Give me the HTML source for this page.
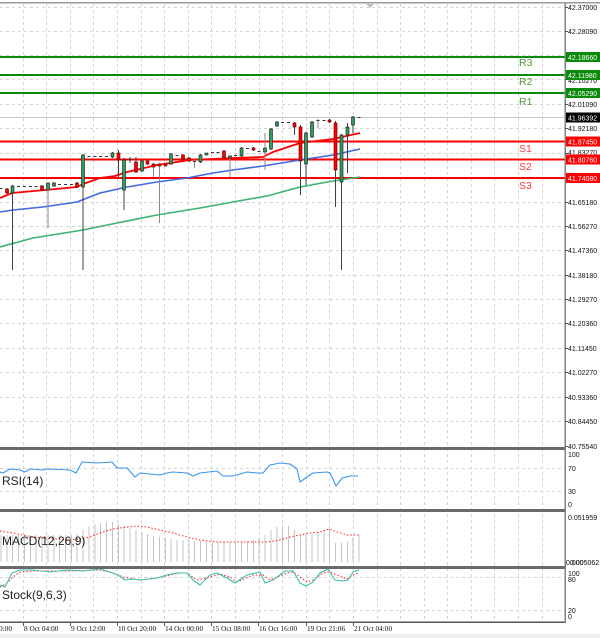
<!DOCTYPE html>
<html><head><meta charset="utf-8"><style>
html,body{margin:0;padding:0;background:#fff;}
svg{display:block;}
text{font-family:"Liberation Sans",sans-serif;}
</style></head><body>
<svg width="600" height="638" viewBox="0 0 600 638" xmlns="http://www.w3.org/2000/svg">
<rect x="0" y="0" width="600" height="638" fill="#fff"/>
<rect x="0" y="634" width="600" height="4" fill="#f0f0f0"/>
<!-- vertical grid -->
<g stroke="#d4d4d4" stroke-width="1" stroke-dasharray="3,3">
<line x1="23.5" y1="4" x2="23.5" y2="622"/><line x1="46.5" y1="4" x2="46.5" y2="622"/><line x1="70.5" y1="4" x2="70.5" y2="622"/><line x1="93.5" y1="4" x2="93.5" y2="622"/><line x1="117.5" y1="4" x2="117.5" y2="622"/><line x1="141.5" y1="4" x2="141.5" y2="622"/><line x1="164.5" y1="4" x2="164.5" y2="622"/><line x1="188.5" y1="4" x2="188.5" y2="622"/><line x1="211.5" y1="4" x2="211.5" y2="622"/><line x1="235.5" y1="4" x2="235.5" y2="622"/><line x1="259.5" y1="4" x2="259.5" y2="622"/><line x1="282.5" y1="4" x2="282.5" y2="622"/><line x1="306.5" y1="4" x2="306.5" y2="622"/><line x1="329.5" y1="4" x2="329.5" y2="622"/><line x1="353.5" y1="4" x2="353.5" y2="622"/><line x1="377.5" y1="4" x2="377.5" y2="622"/><line x1="400.5" y1="4" x2="400.5" y2="622"/><line x1="424.5" y1="4" x2="424.5" y2="622"/><line x1="447.5" y1="4" x2="447.5" y2="622"/><line x1="471.5" y1="4" x2="471.5" y2="622"/><line x1="494.5" y1="4" x2="494.5" y2="622"/><line x1="518.5" y1="4" x2="518.5" y2="622"/><line x1="542.5" y1="4" x2="542.5" y2="622"/>
</g>
<!-- horizontal grid main -->
<g stroke="#d4d4d4" stroke-width="1" stroke-dasharray="3,3">
<line x1="0" y1="7.5" x2="565" y2="7.5"/><line x1="0" y1="31.5" x2="565" y2="31.5"/><line x1="0" y1="55.5" x2="565" y2="55.5"/><line x1="0" y1="79.5" x2="565" y2="79.5"/><line x1="0" y1="104.5" x2="565" y2="104.5"/><line x1="0" y1="128.5" x2="565" y2="128.5"/><line x1="0" y1="153.5" x2="565" y2="153.5"/><line x1="0" y1="177.5" x2="565" y2="177.5"/><line x1="0" y1="202.5" x2="565" y2="202.5"/><line x1="0" y1="226.5" x2="565" y2="226.5"/><line x1="0" y1="250.5" x2="565" y2="250.5"/><line x1="0" y1="275.5" x2="565" y2="275.5"/><line x1="0" y1="299.5" x2="565" y2="299.5"/><line x1="0" y1="323.5" x2="565" y2="323.5"/><line x1="0" y1="348.5" x2="565" y2="348.5"/><line x1="0" y1="372.5" x2="565" y2="372.5"/><line x1="0" y1="397.5" x2="565" y2="397.5"/><line x1="0" y1="421.5" x2="565" y2="421.5"/>
<line x1="0" y1="468.5" x2="565" y2="468.5"/><line x1="0" y1="491.5" x2="565" y2="491.5"/>
<line x1="0" y1="577.5" x2="565" y2="577.5"/><line x1="0" y1="610.5" x2="565" y2="610.5"/>
</g>
<!-- current price line -->
<line x1="0" y1="117.5" x2="565" y2="117.5" stroke="#c8c8c8" stroke-width="1"/>
<!-- S/R lines -->
<g stroke-width="2">
<line x1="0" y1="57" x2="565" y2="57" stroke="#0a8a0a"/>
<line x1="0" y1="75" x2="565" y2="75" stroke="#0a8a0a"/>
<line x1="0" y1="93" x2="565" y2="93" stroke="#0a8a0a"/>
<line x1="0" y1="141.5" x2="565" y2="141.5" stroke="#ff0000"/>
<line x1="0" y1="159.5" x2="565" y2="159.5" stroke="#ff0000"/>
<line x1="0" y1="178" x2="565" y2="178" stroke="#ff0000"/>
</g>
<g font-size="10.5">
<text x="519" y="66" fill="#4f9a3a">R3</text>
<text x="519" y="85" fill="#4f9a3a">R2</text>
<text x="519" y="105" fill="#4f9a3a">R1</text>
<text x="519" y="152" fill="#ff3b3b">S1</text>
<text x="519" y="170" fill="#ff3b3b">S2</text>
<text x="519" y="189" fill="#ff3b3b">S3</text>
</g>
<!-- moving averages -->
<g fill="none" stroke-linejoin="round">
<polyline stroke="#3cb371" stroke-width="1.6" points="0,247 33,238 83,230 117,223 157,215 200,208 233,202 267,196 300,187 333,181 360,177"/>
<polyline stroke="#4169e1" stroke-width="1.6" points="0,212 13,210 43,207 77,202 100,193 127,187 157,182 187,178 213,173 233,170 263,166 300,160 333,155 360,149"/>
<polyline stroke="#ff0000" stroke-width="1.8" points="0,198 12,193 45,190 77,187 83,184 100,178 115,176 127,172 157,165 190,160 233,158 263,157 273,152 300,143 333,139 360,133"/>
</g>
<!-- wicks -->
<g stroke="#404040" stroke-width="1">
<line x1="7" y1="188" x2="7" y2="194"/>
<line x1="12.5" y1="185" x2="12.5" y2="270"/>
<line x1="42" y1="185" x2="42" y2="191"/>
<line x1="48" y1="182" x2="48" y2="228" stroke="#8a8a8a"/>
<line x1="54" y1="182" x2="54" y2="187"/>
<line x1="77" y1="182" x2="77" y2="188"/>
<line x1="83" y1="154" x2="83" y2="270"/>
<line x1="112.5" y1="152" x2="112.5" y2="158"/>
<line x1="118.5" y1="150" x2="118.5" y2="177"/>
<line x1="124" y1="158" x2="124" y2="210"/>
<line x1="130" y1="157" x2="130" y2="163"/>
<line x1="136" y1="157" x2="136" y2="173"/>
<line x1="142" y1="160" x2="142" y2="172"/>
<line x1="147.5" y1="160" x2="147.5" y2="165"/>
<line x1="153.5" y1="163" x2="153.5" y2="177" stroke="#8a8a8a"/>
<line x1="159.5" y1="163" x2="159.5" y2="223" stroke="#8a8a8a"/>
<line x1="171" y1="153" x2="171" y2="165"/>
<line x1="183" y1="154" x2="183" y2="160"/>
<line x1="189" y1="157" x2="189" y2="162"/>
<line x1="194.5" y1="159" x2="194.5" y2="168" stroke="#8a8a8a"/>
<line x1="200.5" y1="154" x2="200.5" y2="163"/>
<line x1="224" y1="150" x2="224" y2="159"/>
<line x1="230" y1="155" x2="230" y2="177" stroke="#8a8a8a"/>
<line x1="241.5" y1="147" x2="241.5" y2="157"/>
<line x1="253.5" y1="147" x2="253.5" y2="151"/>
<line x1="265" y1="133" x2="265" y2="170" stroke="#8a8a8a"/>
<line x1="271" y1="128" x2="271" y2="150"/>
<line x1="277" y1="121" x2="277" y2="127"/>
<line x1="294.5" y1="122" x2="294.5" y2="135"/>
<line x1="300.5" y1="125" x2="300.5" y2="195"/>
<line x1="306" y1="132" x2="306" y2="185"/>
<line x1="312" y1="121" x2="312" y2="138"/>
<line x1="318" y1="119" x2="318" y2="128" stroke="#8a8a8a"/>
<line x1="329.5" y1="119" x2="329.5" y2="123"/>
<line x1="335.5" y1="121" x2="335.5" y2="207"/>
<line x1="341.5" y1="134" x2="341.5" y2="270"/>
<line x1="347.5" y1="123" x2="347.5" y2="173"/>
<line x1="353" y1="116" x2="353" y2="133"/>
</g>
<!-- dashes (doji) -->
<g stroke="#333" stroke-width="1">
<line x1="0" y1="188.5" x2="2.5" y2="188.5"/>
<line x1="17" y1="186.5" x2="20" y2="186.5"/><line x1="23" y1="186.5" x2="26" y2="186.5"/><line x1="29" y1="186.5" x2="32" y2="186.5"/><line x1="34.5" y1="186.5" x2="37.5" y2="186.5"/>
<line x1="58" y1="184.5" x2="61" y2="184.5"/><line x1="64" y1="184.5" x2="67" y2="184.5"/><line x1="70" y1="184.5" x2="73" y2="184.5"/>
<line x1="87.5" y1="156.5" x2="90.5" y2="156.5"/><line x1="93.5" y1="156.5" x2="96.5" y2="156.5"/><line x1="99" y1="156.5" x2="102" y2="156.5"/><line x1="105" y1="156.5" x2="108" y2="156.5"/>
<line x1="128.5" y1="159.5" x2="131.5" y2="159.5"/>
<line x1="175.5" y1="155.5" x2="178.5" y2="155.5"/>
<line x1="193" y1="161.5" x2="196" y2="161.5"/>
<line x1="211" y1="152.5" x2="214" y2="152.5"/><line x1="216.5" y1="152.5" x2="219.5" y2="152.5"/>
<line x1="234" y1="155.5" x2="237" y2="155.5"/>
<line x1="246" y1="148.5" x2="249" y2="148.5"/>
<line x1="257.5" y1="151.5" x2="260.5" y2="151.5"/>
<line x1="281" y1="122.5" x2="284" y2="122.5"/><line x1="287" y1="122.5" x2="290" y2="122.5"/>
<line x1="316.5" y1="120.5" x2="319.5" y2="120.5"/><line x1="322.5" y1="120.5" x2="325.5" y2="120.5"/>
<line x1="357.5" y1="117.5" x2="360.5" y2="117.5"/>
</g>
<!-- red bodies -->
<g fill="#ff0000" stroke="#5a0000" stroke-width="0.6">
<rect x="5.5" y="189" width="3" height="4"/>
<rect x="40.5" y="186" width="3" height="4"/>
<rect x="75.5" y="183" width="3" height="4"/>
<rect x="117" y="153" width="3" height="7"/>
<rect x="134.5" y="162" width="3" height="10"/>
<rect x="146" y="161" width="3" height="3"/>
<rect x="152" y="164" width="3" height="3"/>
<rect x="158" y="164" width="3" height="2"/>
<rect x="164" y="164" width="3" height="2"/>
<rect x="181.5" y="155" width="3" height="4"/>
<rect x="187.5" y="158" width="3" height="3"/>
<rect x="222.5" y="151" width="3" height="7"/>
<rect x="252" y="148" width="3" height="2"/>
<rect x="293" y="123" width="3" height="4"/>
<rect x="299" y="127" width="3" height="34"/>
<rect x="328" y="120" width="3" height="2"/>
<rect x="334" y="123" width="3" height="47"/>
</g>
<!-- green bodies -->
<g fill="#2f9e5c" stroke="#1a1a1a" stroke-width="0.6">
<rect x="11" y="186" width="3" height="7"/>
<rect x="46.5" y="183" width="3" height="7"/>
<rect x="52.5" y="183" width="3" height="3"/>
<rect x="81.5" y="155" width="3" height="32"/>
<rect x="111" y="153" width="3" height="4"/>
<rect x="122.5" y="160" width="3" height="30"/>
<rect x="140.5" y="161" width="3" height="10"/>
<rect x="169.5" y="154" width="3" height="10"/>
<rect x="199" y="155" width="3" height="7"/>
<rect x="205" y="153" width="3" height="2"/>
<rect x="228.5" y="156" width="3" height="2"/>
<rect x="240" y="148" width="3" height="8"/>
<rect x="263.5" y="148" width="3" height="4"/>
<rect x="269.5" y="129" width="3" height="20"/>
<rect x="275.5" y="122" width="3" height="4"/>
<rect x="304.5" y="133" width="3" height="31"/>
<rect x="310.5" y="122" width="3" height="15"/>
<rect x="340" y="135" width="3" height="47"/>
<rect x="346" y="127" width="3" height="8"/>
<rect x="351.5" y="117" width="3" height="8"/>
</g>
<!-- RSI -->
<polyline fill="none" stroke="#3a96f0" stroke-width="1.1" stroke-linejoin="round" points="0,472 3,473 10,469 20,470 25,472 30,469 43,470 47,469 70,470 76,473 82,462 97,463 112,462 117,468 127,468 135,477 140,473 150,474 160,475 167,473 173,472 187,473 193,476 200,473 217,471 223,476 233,476 247,472 257,473 263,473 270,465 280,463 290,464 297,469 300,482 307,477 313,473 327,472 330,473 336,486 342,478 350,476 358,476"/>
<!-- MACD bars -->
<g stroke="#c4c4c4" stroke-width="1">
<line x1="1" y1="535" x2="1" y2="562"/><line x1="7" y1="535" x2="7" y2="562"/><line x1="12.5" y1="535" x2="12.5" y2="562"/><line x1="18.5" y1="535" x2="18.5" y2="562"/><line x1="24.5" y1="535" x2="24.5" y2="562"/><line x1="30.5" y1="535" x2="30.5" y2="562"/><line x1="36" y1="535" x2="36" y2="562"/><line x1="42" y1="536" x2="42" y2="562"/><line x1="48" y1="535" x2="48" y2="562"/><line x1="54" y1="535" x2="54" y2="562"/><line x1="59.5" y1="535" x2="59.5" y2="562"/><line x1="65.5" y1="535" x2="65.5" y2="562"/><line x1="71.5" y1="535" x2="71.5" y2="562"/><line x1="77" y1="534" x2="77" y2="562"/>
<line x1="83" y1="529" x2="83" y2="562"/><line x1="89" y1="526" x2="89" y2="562"/><line x1="95" y1="524" x2="95" y2="562"/><line x1="100.5" y1="523" x2="100.5" y2="562"/><line x1="106.5" y1="522" x2="106.5" y2="562"/><line x1="112.5" y1="522" x2="112.5" y2="562"/><line x1="118.5" y1="524" x2="118.5" y2="562"/><line x1="124" y1="526" x2="124" y2="562"/><line x1="130" y1="528" x2="130" y2="562"/><line x1="136" y1="530" x2="136" y2="562"/><line x1="142" y1="532" x2="142" y2="562"/><line x1="147.5" y1="534" x2="147.5" y2="562"/><line x1="153.5" y1="536" x2="153.5" y2="562"/><line x1="159.5" y1="537" x2="159.5" y2="562"/><line x1="165.5" y1="538" x2="165.5" y2="562"/><line x1="171" y1="539" x2="171" y2="562"/><line x1="177" y1="540" x2="177" y2="562"/><line x1="183" y1="540" x2="183" y2="562"/><line x1="189" y1="540" x2="189" y2="562"/><line x1="194.5" y1="541" x2="194.5" y2="562"/><line x1="200.5" y1="541" x2="200.5" y2="562"/><line x1="206.5" y1="541" x2="206.5" y2="562"/><line x1="212.5" y1="542" x2="212.5" y2="562"/><line x1="218" y1="542" x2="218" y2="562"/><line x1="224" y1="542" x2="224" y2="562"/><line x1="230" y1="542" x2="230" y2="562"/><line x1="235.5" y1="542" x2="235.5" y2="562"/><line x1="241.5" y1="541" x2="241.5" y2="562"/><line x1="247.5" y1="541" x2="247.5" y2="562"/><line x1="253.5" y1="540" x2="253.5" y2="562"/><line x1="259" y1="538" x2="259" y2="562"/><line x1="265" y1="535" x2="265" y2="562"/><line x1="271" y1="530" x2="271" y2="562"/><line x1="277" y1="527" x2="277" y2="562"/><line x1="282.5" y1="526" x2="282.5" y2="562"/><line x1="288.5" y1="526" x2="288.5" y2="562"/><line x1="294.5" y1="530" x2="294.5" y2="562"/><line x1="300.5" y1="535" x2="300.5" y2="562"/><line x1="306" y1="535" x2="306" y2="562"/><line x1="312" y1="534" x2="312" y2="562"/><line x1="318" y1="532" x2="318" y2="562"/><line x1="324" y1="530" x2="324" y2="562"/><line x1="329.5" y1="529" x2="329.5" y2="562"/><line x1="335.5" y1="543" x2="335.5" y2="562"/><line x1="341.5" y1="543" x2="341.5" y2="562"/><line x1="347.5" y1="542" x2="347.5" y2="562"/><line x1="353" y1="537" x2="353" y2="562"/><line x1="359" y1="535" x2="359" y2="562"/>
</g>
<polyline fill="none" stroke="#ff2020" stroke-width="1" stroke-dasharray="1.5,2" points="0,531 13,533 33,537 67,540 80,539 90,537 100,533 113,529 127,527 137,526 147,527 160,530 173,533 187,537 200,540 217,542 233,542 253,542 267,542 280,540 290,537 300,535 310,533 320,532 329,529 337,532 347,535 359,535"/>
<!-- Stochastic -->
<polyline fill="none" stroke="#ff2020" stroke-width="1" stroke-dasharray="1.5,2" points="0,587 7,583 13,577 20,572 33,571 67,571 100,570 113,573 123,577 140,580 157,578 170,575 180,573 187,573 197,580 207,578 220,574 230,577 237,582 253,575 263,575 270,580 287,573 293,572 300,577 307,582 313,580 323,573 329,572 337,575 347,579 353,575 359,573"/>
<polyline fill="none" stroke="#3fbfae" stroke-width="1.1" stroke-linejoin="round" points="0,585 5,587 12,573 20,570 33,570 50,572 67,570 83,571 100,569 110,572 118,575 125,580 133,579 140,580 157,578 167,575 177,573 187,573 193,580 200,585 210,575 217,573 227,578 235,583 247,575 260,572 265,583 273,580 285,571 293,571 300,583 306,586 313,582 320,573 328,569 335,580 343,581 348,580 353,572 359,570"/>
<!-- indicator labels -->
<g font-size="12" fill="#222">
<text x="2" y="485">RSI(14)</text>
<text x="2" y="545">MACD(12,26,9)</text>
<text x="2" y="599">Stock(9,6,3)</text>
</g>
<!-- frame -->
<rect x="0" y="2" width="600" height="1.5" fill="#9a9a9a"/>
<rect x="0" y="447" width="566" height="3" fill="#6a6a6a"/>
<rect x="0" y="509" width="566" height="3" fill="#6a6a6a"/>
<rect x="0" y="566" width="566" height="3" fill="#6a6a6a"/>
<rect x="0" y="621.5" width="566" height="1.5" fill="#555"/>
<rect x="564.5" y="3" width="1.5" height="620" fill="#808080"/>
<polygon points="366,4 374,4 370,8" fill="#bdbdbd"/>
<!-- right axis ticks -->
<g stroke="#555" stroke-width="1">
<line x1="565" y1="7.5" x2="568" y2="7.5"/><line x1="565" y1="31.5" x2="568" y2="31.5"/><line x1="565" y1="79.5" x2="568" y2="79.5"/><line x1="565" y1="104.5" x2="568" y2="104.5"/><line x1="565" y1="128.5" x2="568" y2="128.5"/><line x1="565" y1="153.5" x2="568" y2="153.5"/><line x1="565" y1="202.5" x2="568" y2="202.5"/><line x1="565" y1="226.5" x2="568" y2="226.5"/><line x1="565" y1="250.5" x2="568" y2="250.5"/><line x1="565" y1="275.5" x2="568" y2="275.5"/><line x1="565" y1="299.5" x2="568" y2="299.5"/><line x1="565" y1="323.5" x2="568" y2="323.5"/><line x1="565" y1="348.5" x2="568" y2="348.5"/><line x1="565" y1="372.5" x2="568" y2="372.5"/><line x1="565" y1="397.5" x2="568" y2="397.5"/><line x1="565" y1="421.5" x2="568" y2="421.5"/><line x1="565" y1="446.5" x2="568" y2="446.5"/>
<line x1="23.5" y1="622" x2="23.5" y2="626"/><line x1="70.5" y1="622" x2="70.5" y2="626"/><line x1="117.5" y1="622" x2="117.5" y2="626"/><line x1="164.5" y1="622" x2="164.5" y2="626"/><line x1="211.5" y1="622" x2="211.5" y2="626"/><line x1="258.5" y1="622" x2="258.5" y2="626"/><line x1="306.5" y1="622" x2="306.5" y2="626"/><line x1="353.5" y1="622" x2="353.5" y2="626"/>
</g>
<!-- price labels -->
<g font-size="7" fill="#111">
<text x="568" y="10">42.37000</text>
<text x="568" y="34">42.28090</text>
<text x="568" y="83">42.10270</text>
<text x="568" y="107">42.01090</text>
<text x="568" y="131">41.92180</text>
<text x="568" y="155">41.83270</text>
<text x="568" y="205">41.65180</text>
<text x="568" y="229">41.56270</text>
<text x="568" y="253">41.47360</text>
<text x="568" y="278">41.38180</text>
<text x="568" y="302">41.29270</text>
<text x="568" y="326">41.20360</text>
<text x="568" y="351">41.11450</text>
<text x="568" y="375">41.02270</text>
<text x="568" y="400">40.93360</text>
<text x="568" y="424">40.84450</text>
<text x="568" y="449">40.75540</text>
<text x="568" y="457">100</text>
<text x="568" y="471">70</text>
<text x="568" y="494">30</text>
<text x="568" y="507">0</text>
<text x="568" y="520">0.051959</text>
<text x="566" y="565">0.000</text>
<text x="570" y="565">0.005062</text>
<text x="568" y="576">100</text>
<text x="568" y="582">80</text>
<text x="568" y="613">20</text>
<text x="568" y="619">0</text>
</g>
<!-- label boxes -->
<rect x="566" y="52" width="34" height="10" fill="#0a8a0a"/>
<rect x="566" y="70" width="34" height="10" fill="#0a8a0a"/>
<rect x="566" y="88" width="34" height="10" fill="#0a8a0a"/>
<rect x="566" y="112.5" width="34" height="10" fill="#000"/>
<rect x="566" y="136.5" width="34" height="10" fill="#ff0000"/>
<rect x="566" y="154.5" width="34" height="10" fill="#ff0000"/>
<rect x="566" y="173" width="34" height="10" fill="#ff0000"/>
<g font-size="7" fill="#fff">
<text x="568" y="60">42.18660</text>
<text x="568" y="78">42.11980</text>
<text x="568" y="96">42.05290</text>
<text x="568" y="120.5">41.96392</text>
<text x="568" y="144.5">41.87450</text>
<text x="568" y="162.5">41.80760</text>
<text x="568" y="181">41.74080</text>
</g>
<!-- date labels -->
<g font-size="7.3" fill="#111">
<text x="-1" y="631" style="font-family:'Liberation Serif',serif">0:00</text>
<text x="24" y="631" style="font-family:'Liberation Serif',serif">8 Oct 04:00</text>
<text x="71" y="631" style="font-family:'Liberation Serif',serif">9 Oct 12:00</text>
<text x="118" y="631" style="font-family:'Liberation Serif',serif">10 Oct 20:00</text>
<text x="165" y="631" style="font-family:'Liberation Serif',serif">14 Oct 00:00</text>
<text x="212" y="631" style="font-family:'Liberation Serif',serif">15 Oct 08:00</text>
<text x="259" y="631" style="font-family:'Liberation Serif',serif">16 Oct 16:00</text>
<text x="307" y="631" style="font-family:'Liberation Serif',serif">19 Oct 21:06</text>
<text x="354" y="631" style="font-family:'Liberation Serif',serif">21 Oct 04:00</text>
</g>
</svg>
</body></html>
